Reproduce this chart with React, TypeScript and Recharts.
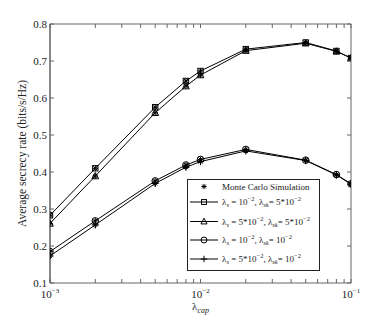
import { LineChart, Line, XAxis, YAxis, Legend, ReferenceLine } from 'recharts';

const lambdaCap = [0.001, 0.002, 0.005, 0.008, 0.01, 0.02, 0.05, 0.08, 0.1];
const rateSquare = [0.283, 0.41, 0.575, 0.646, 0.673, 0.732, 0.75, 0.727, 0.708];
const rateTriangle = [0.261, 0.389, 0.56, 0.632, 0.662, 0.728, 0.748, 0.726, 0.708];
const rateCircle = [0.185, 0.268, 0.376, 0.419, 0.434, 0.461, 0.432, 0.393, 0.368];
const ratePlus = [0.173, 0.257, 0.369, 0.413, 0.428, 0.457, 0.431, 0.392, 0.367];

const majorTicks = [0.001, 0.01, 0.1];
const xTicks = [
  0.001, 0.002, 0.003, 0.004, 0.005, 0.006, 0.007, 0.008, 0.009,
  0.01, 0.02, 0.03, 0.04, 0.05, 0.06, 0.07, 0.08, 0.09, 0.1,
];
const yTicks = [0.1, 0.2, 0.3, 0.4, 0.5, 0.6, 0.7, 0.8];

const seriesKeys = ['square', 'triangle', 'circle', 'plus'];
const lambdaS = ['10', '5*10', '10', '5*10'];
const lambdaSk = ['5*10', '5*10', '10', '10'];

const data = lambdaCap.map((lam, i) => ({
  lam,
  square: rateSquare[i],
  triangle: rateTriangle[i],
  circle: rateCircle[i],
  plus: ratePlus[i],
}));

const FONT = '"Liberation Serif", "Times New Roman", serif';
const PLOT_LEFT = 50;
const PLOT_RIGHT = 351;
const PLOT_TOP = 24;
const PLOT_BOTTOM = 283;
const BORDER = '#666';

function Asterisk({ cx, cy, r }: { cx: number; cy: number; r: number }) {
  const d = r * 0.72;
  return (
    <g stroke="#000" strokeWidth={1}>
      <line x1={cx - r} x2={cx + r} y1={cy} y2={cy} />
      <line x1={cx} x2={cx} y1={cy - r} y2={cy + r} />
      <line x1={cx - d} x2={cx + d} y1={cy - d} y2={cy + d} />
      <line x1={cx - d} x2={cx + d} y1={cy + d} y2={cy - d} />
    </g>
  );
}

function Marker({ cx, cy, kind, sim = true, s = 1 }: { cx: number; cy: number; kind: string; sim?: boolean; s?: number }) {
  let shape = null;
  if (kind === 'square') {
    shape = <rect x={cx - 2.7 * s} y={cy - 2.7 * s} width={5.4 * s} height={5.4 * s} fill="none" stroke="#000" />;
  } else if (kind === 'triangle') {
    shape = (
      <polygon
        points={`${cx},${cy - 3.6 * s} ${cx - 3.4 * s},${cy + 2.7 * s} ${cx + 3.4 * s},${cy + 2.7 * s}`}
        fill="none"
        stroke="#000"
      />
    );
  } else if (kind === 'circle') {
    shape = <circle cx={cx} cy={cy} r={3.3 * s} fill="none" stroke="#000" />;
  } else {
    shape = (
      <g stroke="#000">
        <line x1={cx - 3.6 * s} x2={cx + 3.6 * s} y1={cy} y2={cy} />
        <line x1={cx} x2={cx} y1={cy - 3.6 * s} y2={cy + 3.6 * s} />
      </g>
    );
  }
  return (
    <g>
      {shape}
      {sim && <Asterisk cx={cx} cy={cy} r={2.8} />}
    </g>
  );
}

function XTick(props: any) {
  const { x, payload } = props;
  const v = payload.value;
  const isMajor = majorTicks.some((m) => Math.abs(m - v) < 1e-9);
  const exp = Math.round(Math.log10(v));
  return (
    <g>
      <line x1={x} x2={x} y1={PLOT_BOTTOM} y2={PLOT_BOTTOM - 4} stroke={BORDER} />
      <line x1={x} x2={x} y1={PLOT_TOP} y2={PLOT_TOP + 4} stroke={BORDER} />
      {isMajor && (
        <text x={x} y={PLOT_BOTTOM + 15} textAnchor="middle" fontSize={11} fontFamily={FONT} fill="#222">
          10
          <tspan dy={-5} fontSize={7}>{`\u2212${Math.abs(exp)}`}</tspan>
        </text>
      )}
    </g>
  );
}

function YTick(props: any) {
  const { y, payload } = props;
  return (
    <g>
      <line x1={PLOT_LEFT} x2={PLOT_LEFT + 4} y1={y} y2={y} stroke={BORDER} />
      <line x1={PLOT_RIGHT} x2={PLOT_RIGHT - 4} y1={y} y2={y} stroke={BORDER} />
      <text x={PLOT_LEFT - 3} y={y} dy={4} textAnchor="end" fontSize={11} fontFamily={FONT} fill="#222">
        {payload.value.toFixed(1)}
      </text>
    </g>
  );
}

function XLabel(props: any) {
  const { viewBox } = props;
  const cx = viewBox.x + viewBox.width / 2;
  return (
    <text x={cx} y={viewBox.y + 27} textAnchor="middle" fontSize={11} fontFamily={FONT} fill="#222">
      λ
      <tspan dy={2.5} fontSize={8} fontStyle="italic">cap</tspan>
    </text>
  );
}

function YLabel(props: any) {
  const { viewBox } = props;
  const cy = viewBox.y + viewBox.height / 2;
  const cx = 22;
  return (
    <text
      x={cx}
      y={cy}
      transform={`rotate(-90 ${cx} ${cy})`}
      textAnchor="middle"
      dominantBaseline="central"
      fontSize={11.5}
      fontFamily={FONT}
      fill="#222"
    >
      Average secrecy rate (bits/s/Hz)
    </text>
  );
}

function LegendRow({ y, i }: { y: number; i: number }) {
  return (
    <g>
      <line x1={3} x2={31} y1={y} y2={y} stroke="#000" />
      <Marker cx={17} cy={y} kind={seriesKeys[i]} sim={false} s={0.9} />
      <text x={35} y={y + 3} fontSize={9} fontFamily={FONT} fill="#222">
        λ<tspan dy={2} fontSize={6.5} fontStyle="italic">s</tspan>
        <tspan dy={-2}>{` = ${lambdaS[i]}`}</tspan>
        <tspan dy={-4} fontSize={6.5}>{'\u22122'}</tspan>
        <tspan dy={4}>, λ</tspan>
        <tspan dy={2} fontSize={6.5} fontStyle="italic">sk</tspan>
        <tspan dy={-2}>{`= ${lambdaSk[i]}`}</tspan>
        <tspan dy={-4} fontSize={6.5}>{'\u22122'}</tspan>
      </text>
    </g>
  );
}

function LegendBox() {
  const rows = [23, 42.5, 61, 80];
  return (
    <svg width={133} height={92} style={{ display: 'block' }}>
      <rect x={0.5} y={0.5} width={132} height={91} fill="#fff" stroke="#222" />
      <Asterisk cx={17} cy={7.5} r={2.6} />
      <text x={35} y={10.5} fontSize={9} fontFamily={FONT} fill="#222">
        Monte Carlo Simulation
      </text>
      {rows.map((y, i) => (
        <LegendRow key={i} y={y} i={i} />
      ))}
    </svg>
  );
}

export default function App() {
  return (
    <div style={{ position: 'absolute', left: 0, top: 0, width: 388, height: 318, background: '#fff' }}>
      <LineChart
        width={388}
        height={318}
        data={data}
        margin={{ top: PLOT_TOP, right: 388 - PLOT_RIGHT, bottom: 0, left: 0 }}
      >
        <XAxis
          dataKey="lam"
          type="number"
          scale="log"
          domain={[0.001, 0.1]}
          ticks={xTicks}
          interval={0}
          height={318 - PLOT_BOTTOM}
          tickLine={false}
          axisLine={{ stroke: BORDER }}
          tick={<XTick />}
          label={<XLabel />}
          allowDataOverflow
        />
        <YAxis
          type="number"
          domain={[0.1, 0.8]}
          ticks={yTicks}
          interval={0}
          width={PLOT_LEFT}
          tickLine={false}
          axisLine={{ stroke: '#111' }}
          tick={<YTick />}
          label={<YLabel />}
        />
        <ReferenceLine y={0.8} stroke={BORDER} />
        <ReferenceLine x={0.1} stroke={BORDER} />
        {seriesKeys.map((k) => (
          <Line
            key={k}
            type="linear"
            dataKey={k}
            stroke="#000"
            strokeWidth={1}
            isAnimationActive={false}
            dot={(p: any) => <Marker key={`${k}-${p.index}`} cx={p.cx} cy={p.cy} kind={k} />}
            activeDot={false}
          />
        ))}
        <Legend
          layout="horizontal"
          verticalAlign="middle"
          align="center"
          content={<LegendBox />}
          wrapperStyle={{ position: 'absolute', left: 187, top: 179, width: 133, height: 92 }}
        />
      </LineChart>
    </div>
  );
}
